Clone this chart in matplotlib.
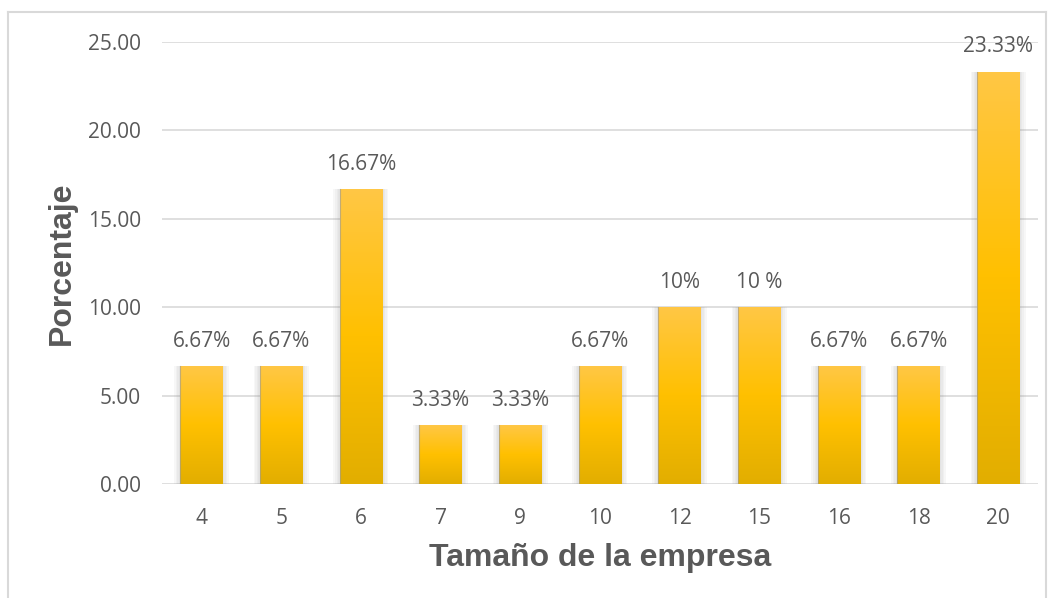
import matplotlib.pyplot as plt
import numpy as np
from matplotlib.colors import LinearSegmentedColormap
from matplotlib.lines import Line2D

categorias = ["4", "5", "6", "7", "9", "10", "12", "15", "16", "18", "20"]
porcentajes = [6.67, 6.67, 16.67, 3.33, 3.33, 6.67, 10, 10, 6.67, 6.67, 23.33]
etiquetas = ["6.67%", "6.67%", "16.67%", "3.33%", "3.33%", "6.67%",
             "10%", "10 %", "6.67%", "6.67%", "23.33%"]
yticks = [0, 5, 10, 15, 20, 25]

gris = "#595959"
plt.rcParams['font.family'] = ['Open Sans', 'DejaVu Sans']

fig = plt.figure(figsize=(10.5, 5.98), dpi=100)
ax = fig.add_axes([0.154, 0.1906, 0.8346, 0.7392])

x = np.arange(len(categorias))
ancho = 0.53

# sombra suave alrededor de las barras
for k in range(1, 5):
    ax.bar(x, np.array(porcentajes) + 0.1 * k, width=ancho + 0.04 * k,
           bottom=-0.1 * k, color="#7f7f7f", alpha=0.055, zorder=2,
           linewidth=0)

barras = ax.bar(x, porcentajes, width=ancho, color="#FFC000", zorder=3,
                linewidth=0)

cmap = LinearSegmentedColormap.from_list(
    "dorado", ["#E2AE00", "#FFC000", "#FFC745"])
grad = np.linspace(0, 1, 256).reshape(-1, 1)
for b in barras:
    x0, w, h = b.get_x(), b.get_width(), b.get_height()
    im = ax.imshow(grad, cmap=cmap, origin="lower", aspect="auto",
                   extent=[x0, x0 + w, 0, h], zorder=4)
    im.set_clip_path(b)
    # borde oscuro a la izquierda
    ax.plot([x0, x0], [0, h], color="#9a9a9a", lw=0.8, alpha=0.6, zorder=4)

for xi, v, t in zip(x, porcentajes, etiquetas):
    ax.annotate(t, (xi, v), xytext=(0, 14), textcoords="offset points",
                ha="center", va="baseline", fontsize=15, color=gris,
                annotation_clip=False)

ax.set_xlim(-0.5, len(categorias) - 0.5)
ax.set_ylim(0, 25)
ax.set_xticks(x)
ax.set_xticklabels(categorias)
ax.set_yticks(yticks)
ax.set_yticklabels([f"{v:.2f}" for v in yticks])
ax.tick_params(axis="both", length=0, labelsize=15, labelcolor=gris)
ax.tick_params(axis="y", pad=15)
ax.tick_params(axis="x", pad=17)
ax.grid(axis="y", color="#D9D9D9", lw=1.2, zorder=0)
ax.set_axisbelow(True)
for s in ax.spines.values():
    s.set_visible(False)

ax.set_xlabel("Tamaño de la empresa", fontsize=23, fontweight="bold",
              color=gris, family=["Liberation Sans", "DejaVu Sans"],
              labelpad=10)
ax.set_ylabel("Porcentaje", fontsize=23, fontweight="bold", color=gris,
              family=["Liberation Sans", "DejaVu Sans"], labelpad=8)

# marco exterior
borde = dict(color="#D9D9D9", lw=1.5, transform=fig.transFigure)
fig.add_artist(Line2D([8 / 1050, 8 / 1050], [0, 1 - 12 / 598], **borde))
fig.add_artist(Line2D([8 / 1050, 1046 / 1050], [1 - 12 / 598, 1 - 12 / 598], **borde))
fig.add_artist(Line2D([1046 / 1050, 1046 / 1050], [0, 1 - 12 / 598], **borde))

fig.savefig("out.png", dpi=100)
